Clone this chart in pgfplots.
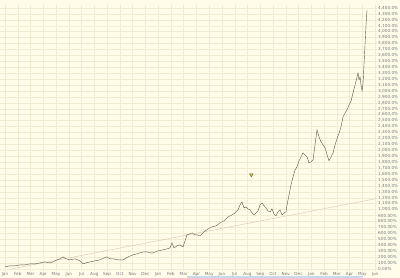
\documentclass[border=0pt]{standalone}
\usepackage{fontspec}
\setmainfont{DejaVu Sans}
\usepackage{pgfplots}
\pgfplotsset{compat=1.18}
\definecolor{bg}{HTML}{FFFDEA}
\definecolor{gridc}{HTML}{F0ECD2}
\definecolor{linec}{HTML}{555548}
\definecolor{trendc}{HTML}{DFC8BA}
\definecolor{labc}{HTML}{777777}
\definecolor{scroll}{HTML}{C9D8EE}
\begin{document}
\begin{tikzpicture}[x=1bp,y=1bp]
\fill[bg] (0,0) rectangle (400,278);
\fill[scroll] (187,0) rectangle (363,2);
\begin{axis}[at={(0,12)}, anchor=south west,
  width=377bp, height=266bp, scale only axis,
  xmin=-0.39, xmax=29.15, ymin=-34, ymax=4451,
  axis line style={draw=none},
  grid=major, grid style={gridc, line width=0.35pt},
  major tick length=0pt,
  xtick={0,...,29},
  xticklabels={Jan,Feb,Mar,Apr,May,Jun,Jul,Aug,Sep,Oct,Nov,Dec,Jan,Feb,Mar,Apr,May,Jun,Jul,Aug,Sep,Oct,Nov,Dec,Jan,Feb,Mar,Apr,May,Jun},
  ytick={0,100,...,4400},
  yticklabels={{0.00\%},{100.00\%},{200.00\%},{300.00\%},{400.00\%},{500.00\%},{600.00\%},{700.00\%},{800.00\%},{900.00\%},{1,000.0\%},{1,100.0\%},{1,200.0\%},{1,300.0\%},{1,400.0\%},{1,500.0\%},{1,600.0\%},{1,700.0\%},{1,800.0\%},{1,900.0\%},{2,000.0\%},{2,100.0\%},{2,200.0\%},{2,300.0\%},{2,400.0\%},{2,500.0\%},{2,600.0\%},{2,700.0\%},{2,800.0\%},{2,900.0\%},{3,000.0\%},{3,100.0\%},{3,200.0\%},{3,300.0\%},{3,400.0\%},{3,500.0\%},{3,600.0\%},{3,700.0\%},{3,800.0\%},{3,900.0\%},{4,000.0\%},{4,100.0\%},{4,200.0\%},{4,300.0\%},{4,400.0\%}},
  yticklabel pos=right,
  tick label style={font=\fontsize{4.2}{5}\selectfont, text=labc},
  yticklabel style={anchor=west, inner sep=1pt},
  xticklabel style={anchor=north, inner sep=1.5pt},
  clip=false]
\addplot[trendc, line width=0.45pt] coordinates {(0.55,0) (29.15,1187)};
\addplot[linec, line width=0.4pt] coordinates {
(0.00,34)(0.39,51)(0.78,51)(1.18,67)(1.57,67)(1.96,84)(2.35,84)(2.74,101)(3.13,118)(3.53,101)(3.76,118)(4.08,152)(4.31,169)(4.55,202)(4.78,169)(5.09,152)(5.49,169)(5.88,135)(6.11,84)(6.35,101)(6.66,118)(7.05,135)(7.45,152)(7.76,185)(7.99,202)(8.23,169)(8.46,169)(8.86,152)(9.25,152)(9.64,202)(10.03,236)(10.34,253)(10.58,270)(10.89,287)(11.13,287)(11.36,270)(11.60,270)(11.99,303)(12.38,320)(12.70,337)(12.93,354)(13.09,438)(13.24,354)(13.48,388)(13.71,405)(13.95,371)(14.11,472)(14.26,573)(14.50,590)(14.66,607)(14.89,573)(15.05,573)(15.28,556)(15.60,624)(15.91,674)(16.22,708)(16.54,725)(16.85,776)(17.16,809)(17.48,877)(17.79,910)(18.03,944)(18.26,995)(18.42,1079)(18.57,1130)(18.73,1028)(18.89,1045)(19.04,1012)(19.20,995)(19.36,944)(19.51,910)(19.67,944)(19.83,978)(19.98,1079)(20.14,1113)(20.30,1062)(20.45,1028)(20.61,978)(20.77,961)(20.92,1012)(21.08,927)(21.24,893)(21.39,961)(21.55,995)(21.71,910)(21.87,944)(22.02,961)(22.10,1079)(22.26,1248)(22.41,1416)(22.57,1551)(22.73,1669)(22.88,1720)(23.04,1821)(23.20,1888)(23.35,1956)(23.51,1922)(23.67,1888)(23.82,1787)(23.98,1804)(24.14,1838)(24.29,2091)(24.45,2344)(24.61,2226)(24.76,2141)(24.92,2091)(25.08,2040)(25.24,1922)(25.39,1821)(25.55,1888)(25.71,1956)(25.86,2091)(26.02,2192)(26.18,2293)(26.33,2394)(26.49,2563)(26.65,2630)(26.80,2681)(26.96,2765)(27.12,2832)(27.27,2967)(27.43,3102)(27.59,3237)(27.66,3305)(27.74,3187)(27.82,3237)(27.90,3102)(27.98,3001)(28.06,3136)(28.13,3439)(28.21,3777)(28.29,4114)(28.37,4367)
};
\addplot[only marks, mark=triangle*, mark size=2pt, mark options={rotate=180, fill=yellow!85!olive, draw=olive!50!black, line width=0.4pt}] coordinates {(19.3,1585)};
\end{axis}
\pgfresetboundingbox
\useasboundingbox (0,0) rectangle (400,278);
\end{tikzpicture}
\end{document}
